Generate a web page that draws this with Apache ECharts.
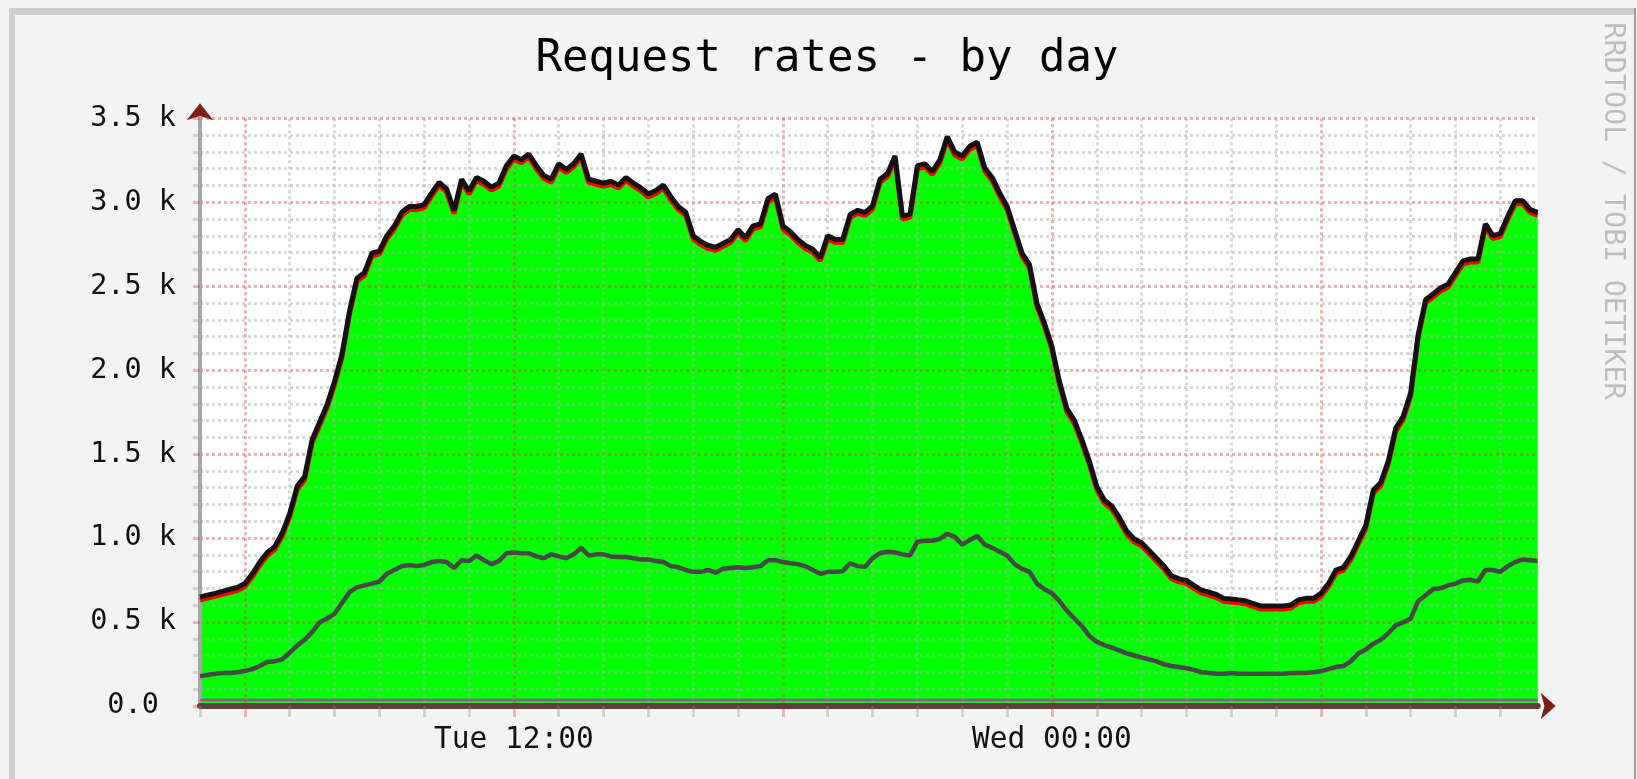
<!DOCTYPE html>
<html><head><meta charset="utf-8">
<script src="https://cdn.jsdelivr.net/npm/echarts@6.0.0/dist/echarts.min.js"></script>
<style>html,body{margin:0;padding:0;background:#f3f3f3}#c{width:1637px;height:779px}</style>
</head><body><div id="c"></div><script>
// ---- data ----
const days = ['Tue', 'Wed'];
const times = [];
for (let i = 0; i < 180; i++) {
  const m = 300 + i * 10;
  const d = Math.floor(m / 1440), mm = m % 1440;
  times.push(days[d] + ' ' + String(Math.floor(mm / 60)).padStart(2, '0') + ':' + String(mm % 60).padStart(2, '0'));
}
const xLabels = ['Tue 12:00', 'Wed 00:00'];
const yLabels = ['0.0 ', '0.5 k', '1.0 k', '1.5 k', '2.0 k', '2.5 k', '3.0 k', '3.5 k'];

const total = [
648,660,671,683,695,706,
729,787,857,914,949,1030,
1146,1308,1366,1586,1690,1794,
1933,2095,2350,2547,2581,2697,
2709,2801,2859,2940,2975,2975,
2986,3056,3118,3079,2950,3137,
3067,3148,3125,3090,3114,3218,
3276,3253,3287,3218,3160,3137,
3229,3195,3229,3287,3137,3125,
3114,3125,3102,3148,3114,3086,
3049,3070,3102,3033,2975,2940,
2801,2766,2743,2732,2755,2778,
2836,2789,2859,2871,3021,3049,
2859,2824,2778,2743,2720,2670,
2801,2778,2778,2928,2952,2940,
2979,3137,3171,3276,2917,2928,
3218,3229,3183,3253,3391,3299,
3276,3334,3357,3206,3148,3056,
2975,2836,2697,2628,2396,2280,
2141,1933,1771,1701,1586,1458,
1308,1227,1192,1123,1042,995,
972,926,880,833,776,757,
748,718,690,678,664,641,
637,632,625,609,595,595,
595,595,602,632,641,641,
671,729,810,826,891,984,
1076,1285,1331,1458,1655,1725,
1864,2211,2419,2454,2489,2512,
2581,2651,2662,2662,2871,2801,
2813,2917,3009,3009,2956,2940];

const middle = [
178,185,192,197,197,201,
208,220,238,262,266,278,
317,359,394,440,498,521,
549,613,678,706,718,729,
741,787,810,833,840,833,
840,857,863,857,822,868,
863,896,868,845,863,910,
914,910,910,891,880,903,
891,880,903,942,896,903,
903,891,887,887,880,873,
873,863,857,833,826,810,
799,799,810,794,817,822,
826,822,826,833,868,868,
857,850,845,833,810,787,
799,799,803,850,833,830,
880,910,919,914,903,896,
979,984,984,995,1026,1007,
961,988,1012,961,942,919,
896,845,817,799,729,695,
671,625,567,521,475,417,
382,363,347,331,313,301,
289,278,266,248,238,232,
225,215,201,197,192,192,
197,192,192,192,192,192,
192,192,197,197,197,201,
208,220,232,238,266,313,
336,370,394,433,480,498,
521,625,660,695,701,718,
729,748,752,741,810,810,
799,833,857,873,868,863];

const low = [
35,35,35,35,35,35, 35,35,35,35,35,35, 35,35,35,35,35,35,
35,35,35,35,35,35, 35,35,35,35,35,35, 35,35,35,35,35,35,
35,35,35,35,35,35, 35,35,35,35,35,35, 35,35,35,35,35,35,
35,35,35,35,35,35, 35,35,35,35,35,35, 35,35,35,35,35,35,
35,35,35,35,35,35, 35,35,35,35,35,35, 35,35,35,35,35,35,
35,35,35,35,35,35, 35,35,35,35,35,35, 35,35,35,35,35,35,
35,35,35,35,35,35, 35,35,35,35,35,35, 35,35,35,35,35,35,
35,35,35,35,35,35, 35,35,35,35,35,35, 35,35,35,35,35,35,
35,35,35,35,35,35, 35,35,35,35,35,35, 35,35,35,35,35,35,
35,35,35,35,35,35, 35,35,35,35,35,35, 35,35,35,35,35,35];

// ---- style ----
const MONO = '"DejaVu Sans Mono", monospace';
const GRID = 'rgba(170,170,170,0.45)';
const MGRID = 'rgba(230,60,60,0.40)';
const isHour = v => v.slice(-2) === '00';
const hourOf = v => parseInt(v.slice(4, 6), 10);
const isSix = v => isHour(v) && hourOf(v) % 6 === 0;
const PLOT = { left: 200, top: 118.3, width: 1337.7, height: 587.7 };

const chart = echarts.init(document.getElementById('c'), null, { renderer: 'canvas' });
chart.setOption({
  backgroundColor: '#f3f3f3',
  animation: false,
  title: {
    text: 'Request rates - by day', left: 822, top: 33, textAlign: 'center',
    textStyle: { fontFamily: MONO, fontSize: 44, fontWeight: 'normal', color: '#000' }
  },
  grid: [
    Object.assign({ show: false, z: 3, containLabel: false, outerBoundsMode: 'none' }, PLOT),
    Object.assign({ show: true, backgroundColor: '#ffffff', borderWidth: 0, z: 0,
      containLabel: false, outerBoundsMode: 'none' }, PLOT)
  ],
  xAxis: [
    {
      type: 'category', gridIndex: 0, data: times, boundaryGap: false, z: 4,
      axisLine: { show: true, lineStyle: { color: '#5e3e36', width: 6 } },
      axisTick: { show: true, interval: (i, v) => isHour(v) && !isSix(v), length: 11,
        lineStyle: { color: 'rgba(143,143,143,0.35)', width: 3 } },
      axisLabel: { show: true, interval: (i, v) => xLabels.includes(v), margin: 19,
        fontFamily: MONO, fontSize: 29.5, color: '#111' },
      splitLine: { show: true, interval: (i, v) => isHour(v) && !isSix(v),
        lineStyle: { color: GRID, width: 3, type: [3, 3] } }
    },
    {
      type: 'category', gridIndex: 0, data: times, boundaryGap: false, position: 'bottom', z: 3,
      axisLine: { show: true, symbol: ['none', 'arrow'], symbolSize: [20, 15], symbolOffset: [0, 18],
        lineStyle: { color: '#7f1d1d', width: 1 } },
      axisTick: { show: true, interval: (i, v) => isSix(v), length: 11,
        lineStyle: { color: 'rgba(222,60,60,0.35)', width: 3 } },
      axisLabel: { show: false },
      splitLine: { show: true, interval: (i, v) => isSix(v),
        lineStyle: { color: MGRID, width: 3, type: [3, 3] } }
    },
    { type: 'category', gridIndex: 1, data: times, show: false }
  ],
  yAxis: [
    {
      type: 'value', gridIndex: 0, min: 0, max: 3500, interval: 500, z: 4,
      axisLine: { show: true, lineStyle: { color: '#a6a6a6', width: 4 } },
      axisTick: { show: true, length: 7, lineStyle: { color: 'rgba(222,60,60,0.35)', width: 3 } },
      minorTick: { show: true, splitNumber: 5, length: 7, lineStyle: { color: GRID, width: 3 } },
      axisLabel: { show: true, margin: 24, formatter: v => yLabels[Math.round(v / 500)],
        fontFamily: MONO, fontSize: 28.5, color: '#111' },
      splitLine: { show: true, lineStyle: { color: MGRID, width: 3, type: [3, 3] } },
      minorSplitLine: { show: true, lineStyle: { color: GRID, width: 3, type: [3, 3] } }
    },
    {
      type: 'value', gridIndex: 0, min: 0, max: 3500, interval: 500, position: 'left', z: 3,
      axisLine: { show: true, symbol: ['none', 'arrow'], symbolSize: [20, 17], symbolOffset: [0, 15],
        lineStyle: { color: '#7f1d1d', width: 1 } },
      axisTick: { show: false }, axisLabel: { show: false }, splitLine: { show: false }
    },
    { type: 'value', gridIndex: 1, min: 0, max: 3500, show: false }
  ],
  series: [
    {
      name: 'total-area', type: 'line', data: total, xAxisIndex: 0, yAxisIndex: 0,
      symbol: 'none', z: 1, lineStyle: { width: 0 },
      areaStyle: { color: '#00ff00', opacity: 1 }
    },
    {
      name: 'middle', type: 'line', data: middle, xAxisIndex: 0, yAxisIndex: 0,
      symbol: 'none', z: 6, lineStyle: { color: '#474747', width: 4.5 }
    },
    {
      name: 'low', type: 'line', data: low, xAxisIndex: 0, yAxisIndex: 0,
      symbol: 'none', z: 6, lineStyle: { color: '#a04fa0', width: 2.5 }
    },
    {
      name: 'total', type: 'line', data: total, xAxisIndex: 0, yAxisIndex: 0,
      symbol: 'none', z: 7,
      lineStyle: { color: '#121212', width: 5, shadowColor: '#ff0000', shadowOffsetY: 3, shadowBlur: 0 }
    }
  ],
  graphic: [
    { type: 'rect', silent: true, shape: { x: 9, y: 8, width: 1626, height: 7 }, style: { fill: '#cfcfcf' } },
    { type: 'rect', silent: true, shape: { x: 9, y: 8, width: 6, height: 771 }, style: { fill: '#cfcfcf' } },
    { type: 'rect', silent: true, shape: { x: 1634, y: 8, width: 2, height: 771 }, style: { fill: '#9e9e9e' } },
    { type: 'text', silent: true, x: 1612, y: 211, rotation: -Math.PI / 2,
      style: { text: 'RRDTOOL / TOBI OETIKER', fill: '#bdbdbd', font: '28.5px "DejaVu Sans Mono"',
        align: 'center', verticalAlign: 'middle' } }
  ]
});
</script></body></html>
